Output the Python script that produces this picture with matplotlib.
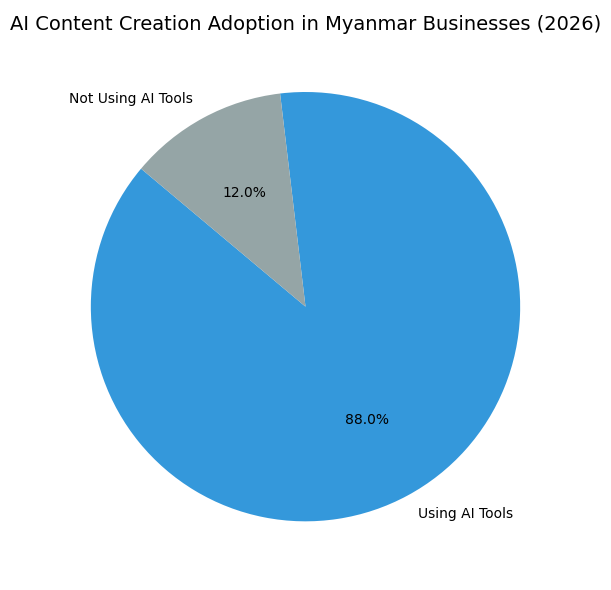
import matplotlib
matplotlib.use("Agg")
import matplotlib.pyplot as plt

labels = ["Using AI Tools", "Not Using AI Tools"]
values = [88, 12]
colors = ["#3498db", "#95a5a6"]

fig, ax = plt.subplots(figsize=(6.11, 5.9), dpi=100)
ax.pie(values, labels=labels, colors=colors, autopct="%1.1f%%", startangle=140)
ax.set_title("AI Content Creation Adoption in Myanmar Businesses (2026)", fontsize=14)
plt.tight_layout()
fig.savefig("out.png", dpi=100)
